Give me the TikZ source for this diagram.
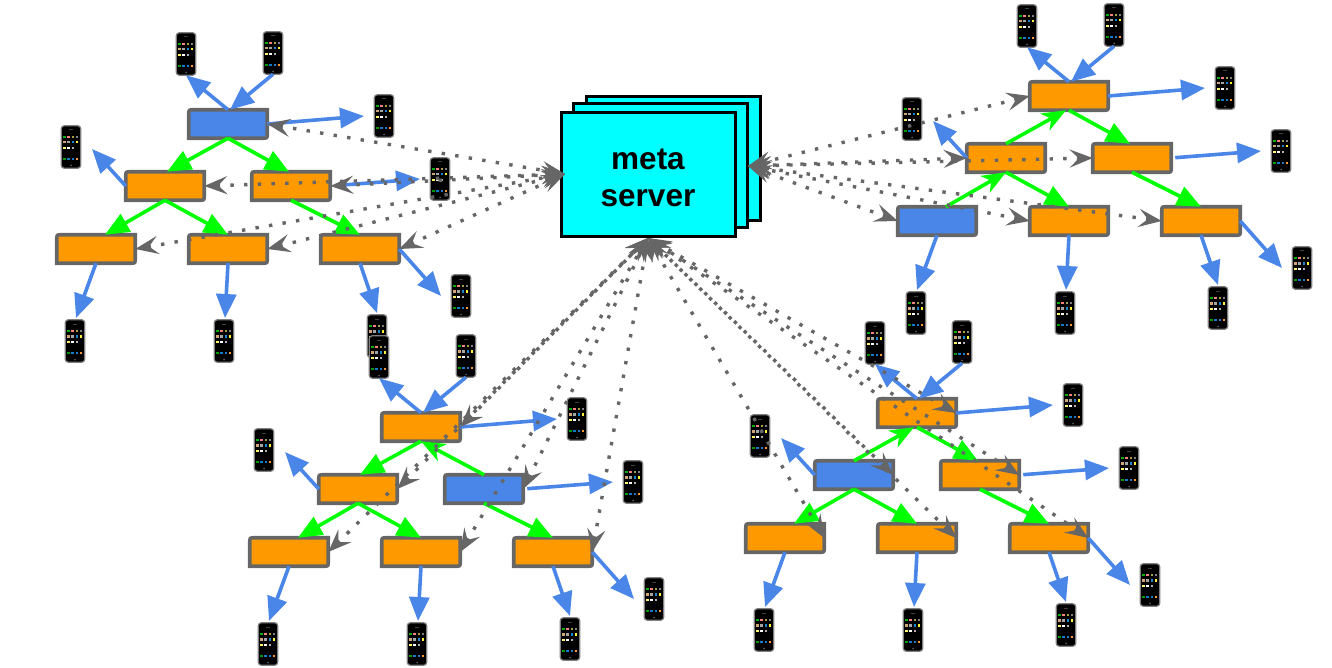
\documentclass[tikz,border=0pt]{standalone}
\usepackage{fontspec}
\setmainfont{Liberation Sans}
\usetikzlibrary{arrows.meta}
\definecolor{cblue}{HTML}{4A86E8}
\definecolor{corange}{HTML}{FF9900}
\definecolor{cgreen}{HTML}{00FF00}
\definecolor{cgray}{HTML}{666666}
\definecolor{ccyan}{HTML}{00FFFF}
\tikzset{
  bluearrow/.style={draw=cblue,line width=3.6pt,-{Triangle[length=24pt,width=20pt,fill=cblue]}},
  greenarrow/.style={draw=cgreen,line width=3.6pt,-{Triangle[length=24pt,width=20pt,fill=cgreen]}},
  greenup/.style={draw=cgreen,line width=3.6pt,-{Stealth[length=24pt,width=19pt,inset=7pt,fill=cgreen]}},
  dotarrow/.style={draw=cgray,line width=3.4pt,dash pattern=on 3.4pt off 10.3pt,
    {Stealth[length=23pt,width=18pt,inset=9pt,fill=cgray]}-{Stealth[length=23pt,width=18pt,inset=9pt,fill=cgray]}},
  boxanchor/.style={minimum width=78.5pt,minimum height=28.5pt,inner sep=0pt,outer sep=0pt},
  boxoutline/.style={draw=cgray,line width=3.6pt,line join=miter},
  phonebody/.style={draw=black!50,fill=black,line width=1.2pt,rounded corners=3pt,
    minimum width=19.5pt,minimum height=42.5pt,inner sep=0pt,outer sep=0pt},
  serverbox/.style={draw=black,fill=ccyan,line width=3pt,minimum width=174pt,minimum height=124pt,inner sep=0pt,outer sep=0pt}
}
% box: name, x, y, fill; rounded at upper left and lower right only
\newcommand{\bx}[4]{%
  \node[boxanchor] (#1) at (#2,#3) {};
  \draw[boxoutline,fill=#4] ([xshift=5pt]#1.north west) -- (#1.north east) -- ([yshift=5pt]#1.south east)
     .. controls (#1.south east) .. ([xshift=-5pt]#1.south east) -- (#1.south west) -- ([yshift=-5pt]#1.north west)
     .. controls (#1.north west) .. ([xshift=5pt]#1.north west) -- cycle;
}
\newcommand{\phone}[3]{%
  \node[phonebody] (#1) at (#2,#3) {};
  \begin{scope}[shift={(#2,#3)}]
    \foreach \xx/\yy/\cc in {
      -6.7/-10/green!70!black,-2.7/-10/red!50!white,1.7/-10/yellow!60!black,5.7/-10/gray,
      -6.7/-4.7/brown!70!white,-2.7/-4.7/gray!70!white,1.7/-4.7/cyan!70!blue,5.7/-4.7/yellow!80!white,
      -6.7/1/yellow!60!white,-2.7/1/white,1.7/1/white!70!black,
      -6.7/12/green!60!black,-2.7/12/cyan!60!blue,1.7/12/cyan!60!blue,5.7/12/orange!80!white}{
      \fill[\cc] (\xx-1.2,\yy-1.2) rectangle (\xx+1.2,\yy+1.2);
    }
    \fill[gray!70!black] (0,18.5) circle (1pt);
    \fill[gray!50!black] (-2,-17.5) rectangle (2,-17);
  \end{scope}
}
\newcommand{\bcol}[2]{\ifnum#1=#2 cblue\else corange\fi}
% tree: prefix, dx, dy, index of blue box, shorten of the row-two arrow
\newcommand{\mytree}[5]{%
  \begin{scope}[shift={(#2,#3)}]
    \bx{#11}{228}{124}{\bcol{#4}{1}}
    \bx{#12}{165}{186}{\bcol{#4}{2}}
    \bx{#13}{291}{186}{\bcol{#4}{3}}
    \bx{#14}{96}{249}{\bcol{#4}{4}}
    \bx{#15}{228}{249}{\bcol{#4}{5}}
    \bx{#16}{360}{249}{\bcol{#4}{6}}
    \phone{#1a}{186}{54}
    \phone{#1b}{273}{53}
    \phone{#1c}{384}{116}
    \phone{#1d}{71}{147}
    \phone{#1e}{440}{179}
    \phone{#1f}{461}{296}
    \phone{#1g}{75}{341}
    \phone{#1h}{224}{341}
    \phone{#1i}{377}{336}
    \coordinate (#1ec) at (364,116);
    \coordinate (#1ed) at (92,149);
    \coordinate (#1ee) at (420,179);
    \coordinate (#1ef) at (441,296);
    \coordinate (#1ei) at (377,313);
    \coordinate (#1eg) at (76,318);
    \coordinate (#1eh) at (225,318);
    \draw[bluearrow] (#11.north) -- (#1a.south);
    \draw[bluearrow] (#1b.south) -- ([xshift=2pt]#11.north);
    \draw[bluearrow] (#11.east) -- (#1ec);
    \draw[bluearrow] (#12.west) -- (#1ed);
    \draw[bluearrow,shorten <=#5] (#13.east) -- (#1ee);
    \draw[bluearrow] (#14.south) -- (#1eg);
    \draw[bluearrow] (#15.south) -- (#1eh);
    \draw[bluearrow] (#16.south) -- (#1ei);
    \draw[bluearrow] (#16.east) -- (#1ef);
  \end{scope}
}
\begin{document}
\begin{tikzpicture}[x=1pt,y=-1pt]
\useasboundingbox (0,0) rectangle (1332,668);
% meta server
\node[serverbox] (srvc) at (673,158.5) {};
\node[serverbox] (srvb) at (660.5,166) {};
\node[serverbox] (srva) at (648,175) {};
\node[font=\fontsize{31.5}{37}\selectfont\bfseries,align=center,inner sep=0pt] (srvt) at (648,178) {meta\\[0pt]server};
\coordinate (sl) at (565,174);
\coordinate (sr) at (748,166);
\coordinate (sb) at (648,238);
% trees
\mytree{a}{0}{0}{1}{15pt}
\mytree{b}{193}{303}{3}{4pt}
\mytree{c}{689}{289}{2}{4pt}
\mytree{d}{841}{-28}{4}{4pt}
% green links, tree a
\draw[greenarrow] (a1.south) -- ([xshift=2pt]a2.north);
\draw[greenarrow] (a1.south) -- ([xshift=-2pt]a3.north);
\draw[greenarrow] (a2.south) -- ([xshift=9pt]a4.north);
\draw[greenarrow] (a2.south) -- (a5.north);
\draw[greenarrow] (a3.south) -- (a6.north);
% tree b
\draw[greenarrow] (b1.south) -- ([xshift=2pt]b2.north);
\draw[greenup] (b3.north) -- (b1.south);
\draw[greenarrow] (b2.south) -- ([xshift=9pt]b4.north);
\draw[greenarrow] (b2.south) -- (b5.north);
\draw[greenarrow] (b3.south) -- (b6.north);
% tree c
\draw[greenup] (c2.north) -- ([xshift=-3pt]c1.south);
\draw[greenarrow] (c1.south) -- ([xshift=-2pt]c3.north);
\draw[greenarrow] (c2.south) -- ([xshift=9pt]c4.north);
\draw[greenarrow] (c2.south) -- (c5.north);
\draw[greenarrow] (c3.south) -- (c6.north);
% tree d
\draw[greenup] (d2.north) -- ([xshift=-3pt]d1.south);
\draw[greenarrow] (d1.south) -- ([xshift=-2pt]d3.north);
\draw[greenup] ([xshift=9pt]d4.north) -- (d2.south);
\draw[greenarrow] (d2.south) -- (d5.north);
\draw[greenarrow] (d3.south) -- (d6.north);
% dotted links to the meta server
\foreach \n in {1,...,6} {
  \draw[dotarrow] (a\n.east) -- (sl);
  \draw[dotarrow] (d\n.west) -- (sr);
  \draw[dotarrow] (b\n.east) -- (sb);
  \draw[dotarrow] (c\n.east) -- (sb);
}
\end{tikzpicture}
\end{document}
